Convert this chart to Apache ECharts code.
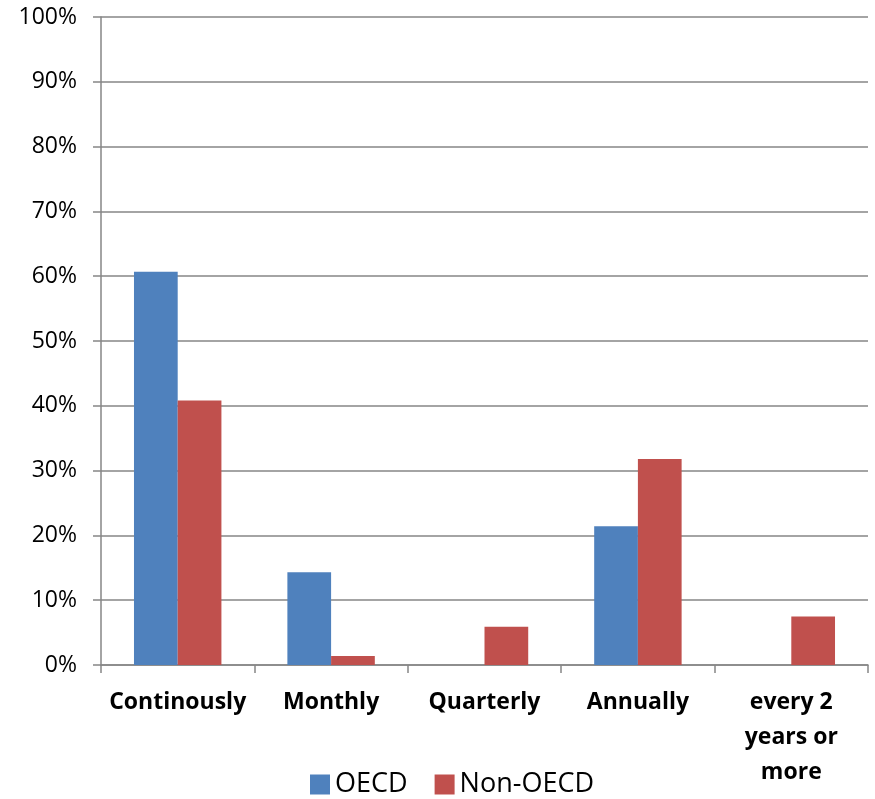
<!DOCTYPE html>
<html>
<head>
<meta charset="utf-8">
<script src="https://cdn.jsdelivr.net/npm/echarts@6/dist/echarts.min.js"></script>
<style>html,body{margin:0;padding:0;background:#fff}#c{width:875px;height:799px}</style>
</head>
<body>
<div id="c"></div>
<script>
const categories = ['Continously', 'Monthly', 'Quarterly', 'Annually', 'every 2\nyears or\nmore'];
const oecd = [60.7, 14.3, null, 21.4, null];
const nonOecd = [40.8, 1.4, 5.9, 31.8, 7.5];
const yTicks = [0, 10, 20, 30, 40, 50, 60, 70, 80, 90, 100];

const FONT = '"Open Sans", Lato, sans-serif';
const chart = echarts.init(document.getElementById('c'));
chart.setOption({
  animation: false,
  textStyle: { fontFamily: FONT },
  grid: { left: 101, right: 7, top: 17, bottom: 134, containLabel: false },
  legend: {
    bottom: -4, left: 305, itemWidth: 20, itemHeight: 20, itemGap: 27,
    icon: 'rect',
    textStyle: { fontSize: 27, color: '#000', fontFamily: FONT },
    data: ['OECD', 'Non-OECD']
  },
  xAxis: {
    type: 'category', data: categories,
    axisLine: { lineStyle: { color: '#868686', width: 1.5 } },
    axisTick: { show: true, length: 8, lineStyle: { color: '#868686', width: 1.5 } },
    axisLabel: { fontSize: 23, fontWeight: 'bold', color: '#000', margin: 20, lineHeight: 35, interval: 0 }
  },
  yAxis: {
    type: 'value', min: 0, max: 100, interval: 10,
    axisLine: { show: true, lineStyle: { color: '#868686', width: 1.5 } },
    axisTick: { show: true, length: 8, lineStyle: { color: '#868686', width: 1.5 } },
    splitLine: { lineStyle: { color: '#868686', width: 1.5 } },
    axisLabel: {
      fontSize: 23, color: '#000', margin: 24,
      formatter: v => yTicks.includes(v) ? v + '%' : ''
    }
  },
  series: [
    { name: 'OECD', type: 'bar', data: oecd, barGap: '0%', barCategoryGap: '43%',
      itemStyle: { color: '#4F81BD' } },
    { name: 'Non-OECD', type: 'bar', data: nonOecd,
      itemStyle: { color: '#C0504D' } }
  ]
});
</script>
</body>
</html>
